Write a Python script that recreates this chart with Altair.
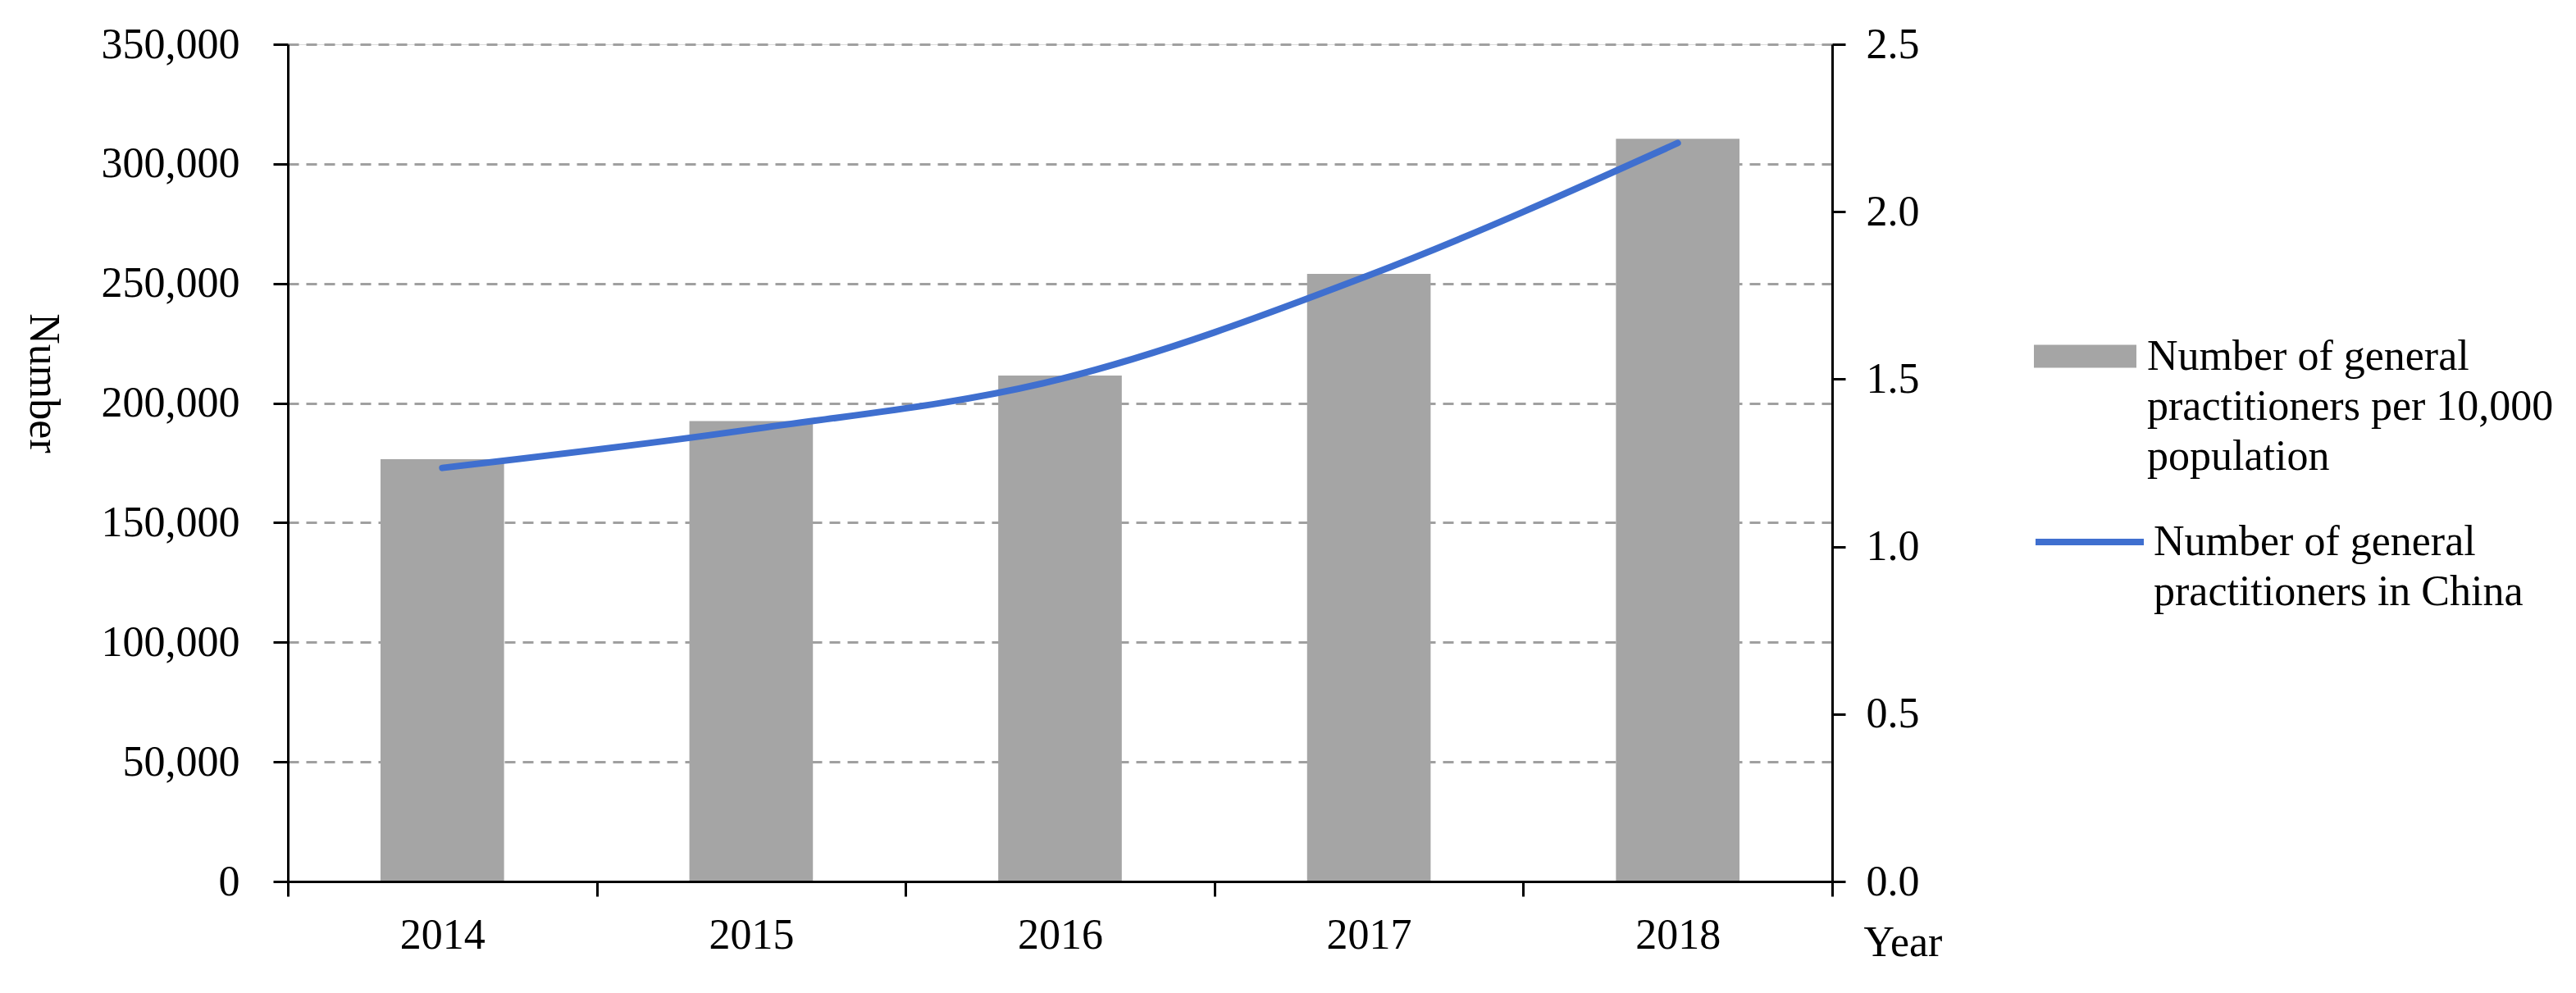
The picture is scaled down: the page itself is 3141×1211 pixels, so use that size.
import altair as alt
import pandas as pd

# ---- data ----
years = ["2014", "2015", "2016", "2017", "2018"]
bar_values = [176500, 192500, 211500, 254000, 310500]          # left axis (Number)
line_values = [1.235, 1.35, 1.50, 1.81, 2.205]                  # right axis
bar_label = "Number of general|practitioners per 10,000|population"
line_label = "Number of general|practitioners in China"
left_ticks = [0, 50000, 100000, 150000, 200000, 250000, 300000, 350000]
right_ticks = [0.0, 0.5, 1.0, 1.5, 2.0, 2.5]

# ---- layout / style ----
W, H = 1883, 1021
FONT = "Liberation Serif"
FS = 52
LH = 61
GRAY = "#A5A5A5"
BLUE = "#3F6FCF"

df_bar = pd.DataFrame({"Year": years, "Value": bar_values, "Series": bar_label})
df_line = pd.DataFrame({"Year": years, "Value": line_values, "Series": line_label})

x_enc = alt.X(
    "Year:N",
    scale=alt.Scale(paddingInner=0, paddingOuter=0),
    axis=alt.Axis(
        title="Year", tickBand="extent", labelAngle=0,
        tickSize=18, tickWidth=3, tickColor="black",
        domainColor="black", domainWidth=3,
        labelFont=FONT, labelFontSize=FS, labelColor="black", labelPadding=22,
        titleFont=FONT, titleFontSize=FS, titleFontWeight="normal", titleColor="black",
        titleX=1969, titleY=90, titleAlign="center", titleBaseline="alphabetic",
        zindex=1,
    ),
)

bars = alt.Chart(df_bar).mark_bar(width=alt.RelativeBandSize(0.4)).encode(
    x=x_enc,
    y=alt.Y(
        "Value:Q",
        scale=alt.Scale(domain=[0, 350000], nice=False, zero=True),
        axis=alt.Axis(
            orient="left", values=left_ticks, format=",d", title="Number",
            grid=True, gridDash=[13, 9], gridColor="#A0A0A0", gridWidth=3,
            tickSize=18, tickWidth=3, tickColor="black",
            domainColor="black", domainWidth=3,
            labelFont=FONT, labelFontSize=FS, labelColor="black", labelPadding=41,
            titleFont=FONT, titleFontSize=FS, titleFontWeight="normal", titleColor="black",
            titleAngle=90, titleX=-299, titleY=413, titleAlign="center", titleBaseline="middle",
        ),
    ),
    fill=alt.Fill(
        "Series:N",
        scale=alt.Scale(range=[GRAY]),
        legend=alt.Legend(
            title=None, orient="none", legendX=2129, legendY=318,
            symbolType="M-1,-0.224H1V0.224H-1Z", symbolSize=15625, symbolStrokeWidth=0,
            labelFont=FONT, labelFontSize=FS, labelColor="black",
            labelLimit=3000, labelOffset=13, labelBaseline="middle",
            labelExpr="split(datum.label, '|')", padding=0,
        ),
    ),
)

line = alt.Chart(df_line).mark_line(interpolate="monotone", strokeWidth=8, strokeCap="round").encode(
    x=alt.X("Year:N"),
    y=alt.Y(
        "Value:Q",
        scale=alt.Scale(domain=[0, 2.5], nice=False, zero=True),
        axis=alt.Axis(
            orient="right", values=right_ticks, format=".1f", title=None, grid=False,
            tickSize=16, tickWidth=3, tickColor="black",
            domainColor="black", domainWidth=3,
            labelFont=FONT, labelFontSize=FS, labelColor="black", labelPadding=25,
            zindex=1,
        ),
    ),
    stroke=alt.Stroke(
        "Series:N",
        scale=alt.Scale(range=[BLUE]),
        legend=alt.Legend(
            title=None, orient="none", legendX=2127, legendY=537,
            symbolType="M-1,0H1", symbolSize=17424, symbolStrokeWidth=8,
            labelFont=FONT, labelFontSize=FS, labelColor="black",
            labelLimit=3000, labelOffset=8, labelBaseline="middle",
            labelExpr="split(datum.label, '|')", padding=0,
        ),
    ),
)

chart = alt.layer(bars, line).resolve_scale(y="independent").properties(
    width=W, height=H,
    padding={"left": 18, "top": 20, "right": 0, "bottom": 0},
).configure_view(stroke=None).configure(
    background="white",
    style={"guide-label": {"lineHeight": LH}},
)

chart.save("out.html", embed_options={"renderer": "svg", "actions": False})
